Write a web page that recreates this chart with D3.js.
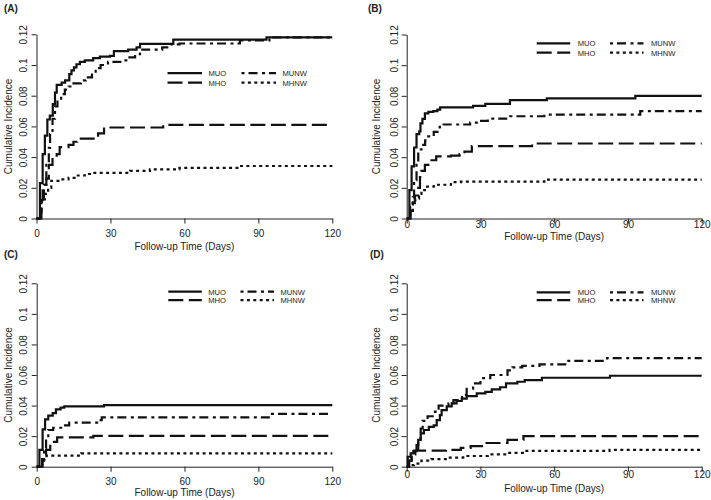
<!DOCTYPE html>
<html><head><meta charset="utf-8">
<script src="https://cdn.jsdelivr.net/npm/d3@7"></script>
<style>
body{margin:0;background:#fff}
svg{display:block}
text{font-family:"Liberation Sans",Arial,sans-serif;fill:#222}
</style>
</head><body><svg id="c" width="711" height="500"></svg>
<script>
const seriesNames = ["MUO","MHO","MUNW","MHNW"];
const panelLabels = ["(A)","(B)","(C)","(D)"];
const xTicks = [0,30,60,90,120];
const yTicks = [0,0.02,0.04,0.06,0.08,0.1,0.12];
const yTickLabels = ["0","0.02","0.04","0.06","0.08","0.1","0.12"];
const xTitle = "Follow-up Time (Days)";
const yTitle = "Cumulative Incidence";

// Panel A: [day, cumulative incidence]
const A_MUO = [[0,0],[1.4,0.023],[2.5,0.042],[3.4,0.054],[4.4,0.0645],[5.4,0.067],[6.6,0.0745],[7.5,0.082],[8.2,0.087],[10.2,0.0885],[11.6,0.09],[13.3,0.094],[14.2,0.0965],[15.2,0.0985],[16.2,0.1005],[17.6,0.102],[19.6,0.103],[23,0.1045],[25.7,0.1055],[29.8,0.106],[31.4,0.109],[37.2,0.11],[40.6,0.1115],[42,0.1138],[55.5,0.1165],[93.3,0.118],[120,0.118]];
const A_MHO = [[0,0],[2,0.012],[2.5,0.022],[4,0.026],[5,0.035],[6.5,0.0395],[8.2,0.042],[9.4,0.0465],[13,0.048],[15,0.05],[16.5,0.052],[25,0.0555],[27.4,0.0593],[51.4,0.061],[120,0.061]];
const A_MUNW = [[0,0],[1.5,0.004],[2,0.012],[3,0.022],[4,0.035],[5,0.046],[5.5,0.055],[6.5,0.065],[7.5,0.073],[8.5,0.077],[10,0.081],[11.5,0.084],[13,0.086],[15,0.088],[18,0.09],[20,0.092],[22.5,0.095],[24,0.098],[26,0.1],[29,0.102],[34,0.103],[37,0.105],[40,0.107],[42,0.11],[51,0.1115],[54.5,0.1135],[58,0.114],[82.5,0.116],[94.5,0.118],[120,0.118]];
const A_MHNW = [[0,0],[1.5,0.005],[2,0.0125],[3.4,0.016],[4.7,0.02],[6,0.0245],[9.7,0.0255],[13,0.0265],[16.2,0.028],[19.6,0.029],[21.7,0.0297],[38,0.031],[46,0.032],[58,0.033],[83,0.0342],[120,0.0342]];

// Panel B
const B_MUO = [[0,0],[1.1,0.0185],[2,0.034],[3,0.0463],[4,0.055],[5.1,0.0568],[5.6,0.062],[6.4,0.065],[7.4,0.0685],[8.8,0.0695],[10.8,0.07],[12.5,0.071],[13.6,0.0725],[27,0.0735],[32,0.0748],[42,0.0772],[57,0.0783],[93,0.08],[120,0.08]];
const B_MHO = [[0,0],[1.6,0.005],[2.5,0.01],[3.3,0.015],[4.7,0.02],[5.4,0.027],[6,0.031],[7.4,0.035],[8.8,0.038],[12,0.0405],[18,0.041],[21.5,0.042],[23.5,0.0436],[26.5,0.0472],[51,0.0489],[120,0.0489]];
const B_MUNW = [[0,0],[1.4,0.0076],[2.5,0.014],[3,0.025],[4,0.035],[4.7,0.045],[6,0.048],[7.5,0.051],[8.3,0.0535],[11,0.0565],[13.4,0.0598],[15,0.0613],[25.8,0.0625],[28.5,0.0637],[33,0.0652],[42,0.0667],[56,0.0678],[95,0.07],[120,0.07]];
const B_MHNW = [[0,0],[1.4,0.005],[2.5,0.01],[3.5,0.013],[5,0.016],[6,0.0185],[7.4,0.0208],[11,0.022],[18,0.0237],[22,0.024],[56,0.0254],[120,0.0254]];

// Panel C
const C_MUO = [[0,0],[1.1,0.011],[2.4,0.0244],[3.4,0.031],[4.7,0.0334],[6.5,0.035],[7.8,0.0375],[9.7,0.0386],[11.2,0.0395],[27.3,0.0403],[120,0.0403]];
const C_MHO = [[0,0],[2.4,0.004],[3,0.0076],[3.8,0.011],[5.5,0.015],[7,0.0163],[8.3,0.0192],[23,0.0202],[120,0.0202]];
const C_MUNW = [[0,0],[2.2,0.005],[3,0.012],[3.8,0.018],[4.7,0.024],[6.7,0.0255],[10.8,0.027],[13.2,0.0288],[25,0.0305],[26.4,0.0323],[95.5,0.0345],[120,0.0345]];
const C_MHNW = [[0,0],[2.2,0.002],[3,0.005],[4,0.0072],[18,0.0087],[120,0.0087]];

// Panel D
const D_MUO = [[0,0],[0.4,0.0065],[1.6,0.0087],[2.7,0.0102],[4,0.0142],[4.7,0.0175],[5.7,0.0218],[7,0.024],[9,0.026],[11,0.027],[12.2,0.0305],[13.5,0.0338],[14.2,0.037],[16.3,0.0395],[18.3,0.0414],[20.3,0.043],[22.4,0.0446],[24.4,0.0462],[28.5,0.048],[32,0.049],[34.6,0.0506],[38,0.052],[40.4,0.0545],[45,0.0556],[48,0.0566],[55,0.0582],[82.7,0.0595],[120,0.0595]];
const D_MHO = [[0,0],[1,0.004],[2,0.008],[3,0.0105],[16,0.011],[22,0.0123],[26,0.0135],[32,0.0155],[41,0.0175],[47.5,0.02],[120,0.02]];
const D_MUNW = [[0,0],[0.7,0.004],[2,0.008],[3.5,0.011],[4.7,0.016],[5.7,0.025],[6.5,0.03],[8.5,0.033],[11.5,0.036],[13,0.04],[17,0.0415],[19,0.0435],[22.5,0.047],[24.4,0.051],[27,0.0545],[30,0.058],[34,0.06],[41,0.063],[43,0.065],[47,0.066],[54,0.067],[65,0.0693],[81.5,0.071],[120,0.071]];
const D_MHNW = [[0,0],[1,0.001],[3,0.002],[6,0.004],[10,0.005],[17,0.006],[23,0.007],[33,0.008],[41,0.009],[48,0.0103],[82.5,0.011],[120,0.011]];

const panelData = [
  [A_MUO, A_MHO, A_MUNW, A_MHNW],
  [B_MUO, B_MHO, B_MUNW, B_MHNW],
  [C_MUO, C_MHO, C_MUNW, C_MHNW],
  [D_MUO, D_MHO, D_MUNW, D_MHNW]
];

// styles per series (solid, long dash, dot-dash, dotted)
const dashes = [null, "15,5.5", "3,4,9,4.5", "3,3.4"];

// layout per panel
const layouts = [
  {x0:36.5, x1:332.3, y0:218.5, y1:34.3, xLabY:236.5, xTitY:249.5, yLabX:27.3, yTitX:11.5, lab:[4,11.5], leg:{x:167.5, y:73.2, dy:9.5, len:34.5, col2:241.5, tx:6.5}},
  {x0:406.7, x1:701.7, y0:218.5, y1:34.5, xLabY:228.3, xTitY:240.2, yLabX:398.3, yTitX:380, lab:[368,11.5], leg:{x:536.7, y:43.3, dy:9.4, len:33.5, col2:610, tx:7.5}},
  {x0:36.7, x1:332.3, y0:466.7, y1:283.3, xLabY:485, xTitY:495.5, yLabX:27.3, yTitX:11.5, lab:[4,257.5], leg:{x:168.3, y:291.7, dy:8.4, len:33.5, col2:240.5, tx:6.5}},
  {x0:406.7, x1:701.7, y0:466.7, y1:283.3, xLabY:478, xTitY:491.5, yLabX:398.3, yTitX:380, lab:[370,257.5], leg:{x:536.7, y:292.3, dy:7.9, len:33.5, col2:610, tx:7.5}}
];

const svg = d3.select("#c");
svg.append("rect").attr("width",711).attr("height",500).attr("fill","#fff");

layouts.forEach((L, pi) => {
  const g = svg.append("g");
  const x = d3.scaleLinear().domain([0,120]).range([L.x0, L.x1]);
  const y = d3.scaleLinear().domain([0,0.12]).range([L.y0, L.y1]);

  // x axis
  const gx = g.append("g").attr("transform", `translate(0,${L.y0})`)
    .call(d3.axisBottom(x).tickValues(xTicks).tickSize(5).tickSizeOuter(0).tickFormat(d3.format("d")));
  gx.select(".domain").attr("stroke","#222").attr("stroke-width",1);
  gx.selectAll(".tick line").attr("stroke","#222");
  gx.selectAll(".tick text").attr("y", L.xLabY - L.y0).attr("dy", null)
    .style("font-size","10px").style("font-family",'"Liberation Sans",Arial,sans-serif').attr("fill","#222");

  // y axis
  const gy = g.append("g").attr("transform", `translate(${L.x0},0)`)
    .call(d3.axisLeft(y).tickValues(yTicks).tickSize(5).tickSizeOuter(0).tickFormat((d,i) => yTickLabels[i]));
  gy.select(".domain").attr("stroke","#222").attr("stroke-width",1);
  gy.selectAll(".tick line").attr("stroke","#222");
  gy.selectAll(".tick text")
    .attr("x", 0).attr("dy", null).attr("text-anchor","middle")
    .attr("transform", `translate(${L.yLabX - L.x0},0) rotate(-90)`)
    .style("font-size","10px").style("font-family",'"Liberation Sans",Arial,sans-serif').attr("fill","#222");

  // titles
  g.append("text").attr("x", (L.x0+L.x1)/2).attr("y", L.xTitY).attr("text-anchor","middle")
    .style("font-size","10px").text(xTitle);
  g.append("text").attr("transform", `translate(${L.yTitX},${(L.y0+L.y1)/2}) rotate(-90)`)
    .attr("text-anchor","middle").style("font-size","10px").text(yTitle);

  // panel label
  g.append("text").attr("x", L.lab[0]).attr("y", L.lab[1])
    .style("font-size","10px").style("font-weight","bold").text(panelLabels[pi]);

  // curves
  const line = d3.line().x(d => x(d[0])).y(d => y(d[1])).curve(d3.curveStepAfter);
  panelData[pi].forEach((s, si) => {
    g.append("path").datum(s).attr("d", line)
      .attr("fill","none").attr("stroke","#111").attr("stroke-width",2.2)
      .attr("stroke-dasharray", dashes[si]);
  });

  // legend
  const lg = g.append("g");
  seriesNames.forEach((name, si) => {
    const col = si < 2 ? 0 : 1;
    const row = si % 2;
    const lx = col === 0 ? L.leg.x : L.leg.col2;
    const ly = L.leg.y + row * L.leg.dy;
    lg.append("line").attr("x1", lx).attr("x2", lx + L.leg.len).attr("y1", ly).attr("y2", ly)
      .attr("stroke","#111").attr("stroke-width",2.2).attr("stroke-dasharray", dashes[si]);
    lg.append("text").attr("x", lx + L.leg.len + L.leg.tx).attr("y", ly + 0.5)
      .attr("dominant-baseline","central").style("font-size","7.6px").text(name);
  });
});
</script>
</body></html>
